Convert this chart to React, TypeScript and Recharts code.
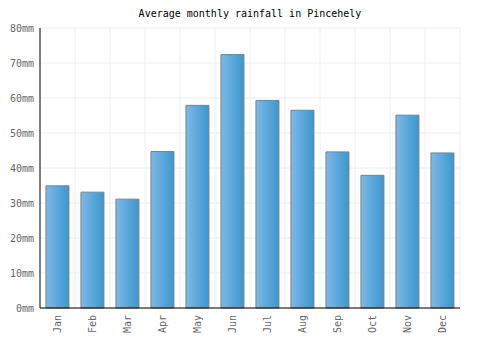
import { BarChart, Bar, XAxis, YAxis, CartesianGrid } from "recharts";

const months = ["Jan", "Feb", "Mar", "Apr", "May", "Jun", "Jul", "Aug", "Sep", "Oct", "Nov", "Dec"];
const rainfall = [34.9, 33.1, 31.1, 44.7, 57.9, 72.4, 59.3, 56.5, 44.6, 37.9, 55.1, 44.3];
const yTicks = [0, 10, 20, 30, 40, 50, 60, 70, 80];

const data = months.map((m, i) => ({ month: m, rain: rainfall[i] }));

const FONT = "'DejaVu Sans Mono', monospace";

function MonthTick({ x, y, payload }: any) {
  return (
    <text
      x={x}
      y={y}
      transform={`rotate(-90, ${x}, ${y})`}
      textAnchor="end"
      dominantBaseline="central"
      fill="#666"
      fontSize={10}
      fontFamily={FONT}
    >
      {payload.value}
    </text>
  );
}

export default function App() {
  return (
    <div style={{ position: "absolute", left: 0, top: 0, width: 500, height: 350, background: "#fff" }}>
      <div
        style={{
          position: "absolute",
          top: 8,
          left: 0,
          width: 500,
          textAlign: "center",
          fontFamily: FONT,
          fontSize: 10,
          color: "#000",
        }}
      >
        Average monthly rainfall in Pincehely
      </div>
      <BarChart
        width={500}
        height={350}
        data={data}
        margin={{ top: 28, right: 40, left: 0, bottom: 0 }}
        barCategoryGap="17%"
      >
        <defs>
          <linearGradient id="barFill" x1="0" y1="0" x2="1" y2="0">
            <stop offset="0%" stopColor="#7db9e8" />
            <stop offset="100%" stopColor="#3a97cd" />
          </linearGradient>
        </defs>
        <CartesianGrid
          stroke="#eeeeee"
          verticalCoordinatesGenerator={({ offset }: any) =>
            months.map((_, i) => offset.left + ((i + 1) * offset.width) / months.length)
          }
        />
        <XAxis
          dataKey="month"
          axisLine={{ stroke: "#000" }}
          tickLine={false}
          tickSize={5}
          tickMargin={2}
          height={42}
          interval={0}
          tick={<MonthTick />}
        />
        <YAxis
          width={40}
          domain={[0, 80]}
          ticks={yTicks}
          axisLine={{ stroke: "#000" }}
          tickLine={false}
          tickSize={0}
          tickMargin={6}
          tickFormatter={(v: number) => `${v}mm`}
          tick={{ fill: "#666", fontSize: 10, fontFamily: FONT }}
        />
        <Bar dataKey="rain" fill="url(#barFill)" stroke="#808080" strokeWidth={1} isAnimationActive={false} />
      </BarChart>
    </div>
  );
}
